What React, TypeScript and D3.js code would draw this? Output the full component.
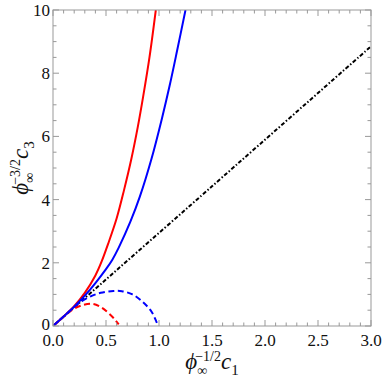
import React from 'react';
import * as d3 from 'd3';

// values: [x, y]
const redSolid: [number, number][] = [
  [0, 0], [0.1, 0.3], [0.2, 0.63], [0.3, 1.05], [0.4, 1.6], [0.46, 2.05], [0.52, 2.6],
  [0.6, 3.4], [0.67, 4.3], [0.74, 5.3], [0.8, 6.3], [0.85, 7.25], [0.91, 8.5], [0.97, 10],
];
const blueSolid: [number, number][] = [
  [0, 0], [0.1, 0.3], [0.2, 0.61], [0.3, 0.96], [0.4, 1.36], [0.5, 1.8], [0.56, 2.1], [0.62, 2.48],
  [0.73, 3.3], [0.82, 4.1], [0.93, 5.3], [1.03, 6.6], [1.1, 7.6], [1.17, 8.7], [1.25, 10],
];
const redDashed: [number, number][] = [
  [0, 0], [0.1, 0.29], [0.19, 0.53], [0.27, 0.65], [0.37, 0.7], [0.45, 0.6], [0.52, 0.42], [0.58, 0.22], [0.62, 0.05],
];
const blueDashed: [number, number][] = [
  [0, 0], [0.12, 0.36], [0.25, 0.74], [0.35, 0.93], [0.45, 1.05], [0.57, 1.11], [0.65, 1.1],
  [0.75, 1.0], [0.85, 0.75], [0.93, 0.45], [0.98, 0.1],
];
const blackLine: [number, number][] = [[0, 0], [1.5, 4.42], [3, 8.85]];

const xTicks = [0, 0.5, 1, 1.5, 2, 2.5, 3];
const yTicks = [0, 2, 4, 6, 8, 10];

const width = 382;
const height = 383;
const margin = { top: 10, right: 11, bottom: 57, left: 53 };
const serif = "'Liberation Serif', 'Times New Roman', 'DejaVu Serif', serif";

export default function App() {
  const x = d3.scaleLinear([0, 3], [margin.left, width - margin.right]);
  const y = d3.scaleLinear([0, 10], [height - margin.bottom, margin.top]);
  const line = d3.line<[number, number]>().x(d => x(d[0])).y(d => y(d[1])).curve(d3.curveCatmullRom.alpha(0.5));

  const xMinor = d3.range(0, 3.0001, 0.1);
  const yMinor = d3.range(0, 10.0001, 0.5);
  const frame = '#999';
  const x0 = x(0), x1 = x(3), y0 = y(0), y1 = y(10);
  const isMajorX = (v: number) => Math.abs(v * 2 - Math.round(v * 2)) < 1e-6;
  const isMajorY = (v: number) => Math.abs(v / 2 - Math.round(v / 2)) < 1e-6;

  return (
    <svg width={width} height={height} style={{ position: 'absolute', left: 0, top: 0, fontFamily: serif }}>
      <defs>
        <clipPath id="plot">
          <rect x={x0} y={y1} width={x1 - x0} height={y0 - y1} />
        </clipPath>
      </defs>
      <rect width={width} height={height} fill="white" />
      <g clipPath="url(#plot)" fill="none" strokeWidth={2}>
        <path d={line(blackLine) ?? ''} stroke="black" strokeDasharray="4 2 1.5 2" />
        <path d={line(redDashed) ?? ''} stroke="red" strokeDasharray="6 3.5" />
        <path d={line(blueDashed) ?? ''} stroke="blue" strokeDasharray="6 3.5" />
        <path d={line(redSolid) ?? ''} stroke="red" />
        <path d={line(blueSolid) ?? ''} stroke="blue" />
      </g>
      <g stroke={frame} strokeWidth={1} fill="none">
        <rect x={x0} y={y1} width={x1 - x0} height={y0 - y1} />
        {xMinor.map((v, i) => {
          const l = isMajorX(v) ? 6 : 3.5;
          return (
            <g key={'x' + i}>
              <line x1={x(v)} x2={x(v)} y1={y0} y2={y0 - l} />
              <line x1={x(v)} x2={x(v)} y1={y1} y2={y1 + l} />
            </g>
          );
        })}
        {yMinor.map((v, i) => {
          const l = isMajorY(v) ? 6 : 3.5;
          return (
            <g key={'y' + i}>
              <line x1={x0} x2={x0 + l} y1={y(v)} y2={y(v)} />
              <line x1={x1} x2={x1 - l} y1={y(v)} y2={y(v)} />
            </g>
          );
        })}
      </g>
      <g fontSize={17} fill="#111" style={{ fontFamily: serif }}>
        {xTicks.map(v => (
          <text key={v} x={x(v)} y={y0 + 20} textAnchor="middle">{d3.format('.1f')(v)}</text>
        ))}
        {yTicks.map(v => (
          <text key={v} x={x0 - 3} y={y(v) + (v === 0 ? 4 : 6)} textAnchor="end">{v}</text>
        ))}
      </g>
      <text x={(x0 + x1) / 2} y={369} textAnchor="middle" fontSize={23} fill="#111" style={{ fontFamily: serif }}>
        <tspan fontStyle="italic">ϕ</tspan>
        <tspan fontSize={14} dy={6}>∞</tspan>
        <tspan fontSize={14} dx={-12} dy={-14}>−1/2</tspan>
        <tspan fontStyle="italic" dy={8}>c</tspan>
        <tspan fontSize={15} dy={6}>1</tspan>
      </text>
      <text transform={`translate(28, ${(y0 + y1) / 2}) rotate(-90)`} textAnchor="middle" fontSize={23} fill="#111"
        style={{ fontFamily: serif }}>
        <tspan fontStyle="italic">ϕ</tspan>
        <tspan fontSize={14} dy={6}>∞</tspan>
        <tspan fontSize={14} dx={-12} dy={-14}>−3/2</tspan>
        <tspan fontStyle="italic" dy={8}>c</tspan>
        <tspan fontSize={15} dy={6}>3</tspan>
      </text>
    </svg>
  );
}
